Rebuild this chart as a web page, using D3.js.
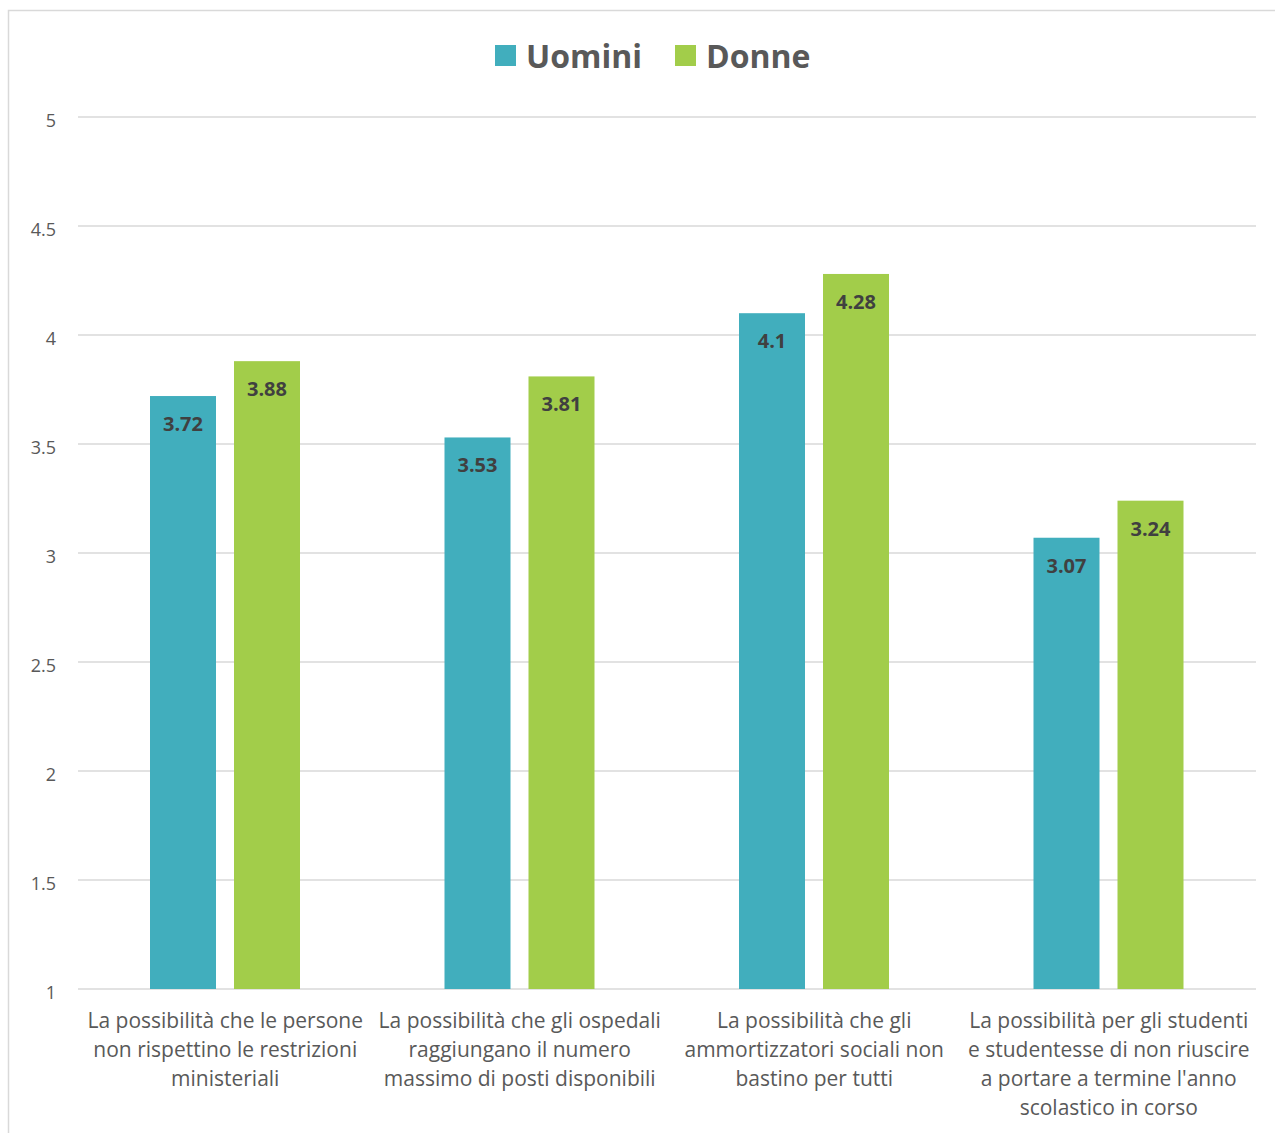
<!DOCTYPE html>
<html><head><meta charset="utf-8">
<script src="https://cdn.jsdelivr.net/npm/d3@7"></script>
<style>
body{margin:0;background:#fff;}
svg{display:block;font-family:"Open Sans","Noto Sans",sans-serif;}
</style></head>
<body>
<svg id="chart" width="1275" height="1133"></svg>
<script>
const categories = [
  ["La possibilità che le persone","non rispettino le restrizioni","ministeriali"],
  ["La possibilità che gli ospedali","raggiungano il numero","massimo di posti disponibili"],
  ["La possibilità che gli","ammortizzatori sociali non","bastino per tutti"],
  ["La possibilità per gli studenti","e studentesse di non riuscire","a portare a termine l'anno","scolastico in corso"]
];
const seriesNames = ["Uomini","Donne"];
const uomini = [3.72, 3.53, 4.1, 3.07];
const donne = [3.88, 3.81, 4.28, 3.24];
const yTicks = [1, 1.5, 2, 2.5, 3, 3.5, 4, 4.5, 5];
const colors = ["#41AEBD", "#A2CD4A"];

(function(){
const svg = d3.select("#chart");
// outer border
svg.append("rect").attr("x",8.5).attr("y",10.5).attr("width",1280).attr("height",1140)
  .attr("fill","none").attr("stroke","#d9d9d9").attr("stroke-width",1.5);

const pl = 78, pr = 1256, pt = 117, pb = 989;
const y = d3.scaleLinear().domain([1,5]).range([pb, pt]);
const x0 = d3.scaleBand().domain(d3.range(categories.length)).range([pl, pr]).paddingInner(0).paddingOuter(0);
const x1 = d3.scaleBand().domain([0,1]).range([72, 222]).paddingInner(18/84).paddingOuter(0);

// gridlines
svg.append("g").selectAll("line").data(yTicks).join("line")
  .attr("x1", pl).attr("x2", pr)
  .attr("y1", d => y(d)).attr("y2", d => y(d))
  .attr("stroke", "#d9d9d9").attr("stroke-width", 1.5);

// y axis labels
const yAxis = d3.axisLeft(y).tickValues(yTicks).tickSize(0).tickPadding(0).tickFormat(d => String(d));
const ya = svg.append("g").attr("transform", `translate(56,3)`).call(yAxis);
ya.select(".domain").remove();
ya.selectAll("text").attr("fill","#595959").attr("font-size",18).attr("text-anchor","end")
  .attr("font-family","'Open Sans',sans-serif").attr("dy","0.35em");

const data = categories.map((c,i) => ({i, vals:[uomini[i], donne[i]]}));
const groups = svg.append("g").selectAll("g").data(data).join("g")
  .attr("transform", d => `translate(${x0(d.i)},0)`);
groups.selectAll("rect").data(d => d.vals.map((v,k)=>({v,k}))).join("rect")
  .attr("x", d => x1(d.k)).attr("width", x1.bandwidth())
  .attr("y", d => y(d.v)).attr("height", d => y(1) - y(d.v))
  .attr("fill", d => colors[d.k]);
groups.selectAll("text.val").data(d => d.vals.map((v,k)=>({v,k}))).join("text")
  .attr("class","val")
  .attr("x", d => x1(d.k) + x1.bandwidth()/2)
  .attr("y", d => y(d.v) + 35)
  .attr("text-anchor","middle").attr("font-size",20).attr("font-weight","bold")
  .attr("fill","#404040")
  .text(d => String(d.v));

// category labels
const cat = svg.append("g").selectAll("text").data(categories).join("text")
  .attr("x", (d,i) => x0(i) + x0.bandwidth()/2)
  .attr("y", 1028)
  .attr("text-anchor","middle").attr("font-size",21).attr("fill","#595959");
cat.selectAll("tspan").data(d => d).join("tspan")
  .attr("x", function(){ return this.parentNode.getAttribute("x"); })
  .attr("dy", (d,j) => j===0 ? 0 : 29)
  .text(d => d);

// legend
const legend = svg.append("g");
const legX = [495, 675];
seriesNames.forEach((n,k) => {
  legend.append("rect").attr("x", legX[k]).attr("y", 45).attr("width", 21).attr("height", 21).attr("fill", colors[k]);
  legend.append("text").attr("x", legX[k] + 31).attr("y", 68)
    .attr("font-size", 32).attr("font-weight","bold").attr("fill","#595959").text(n);
});
})();
</script>
</body></html>
